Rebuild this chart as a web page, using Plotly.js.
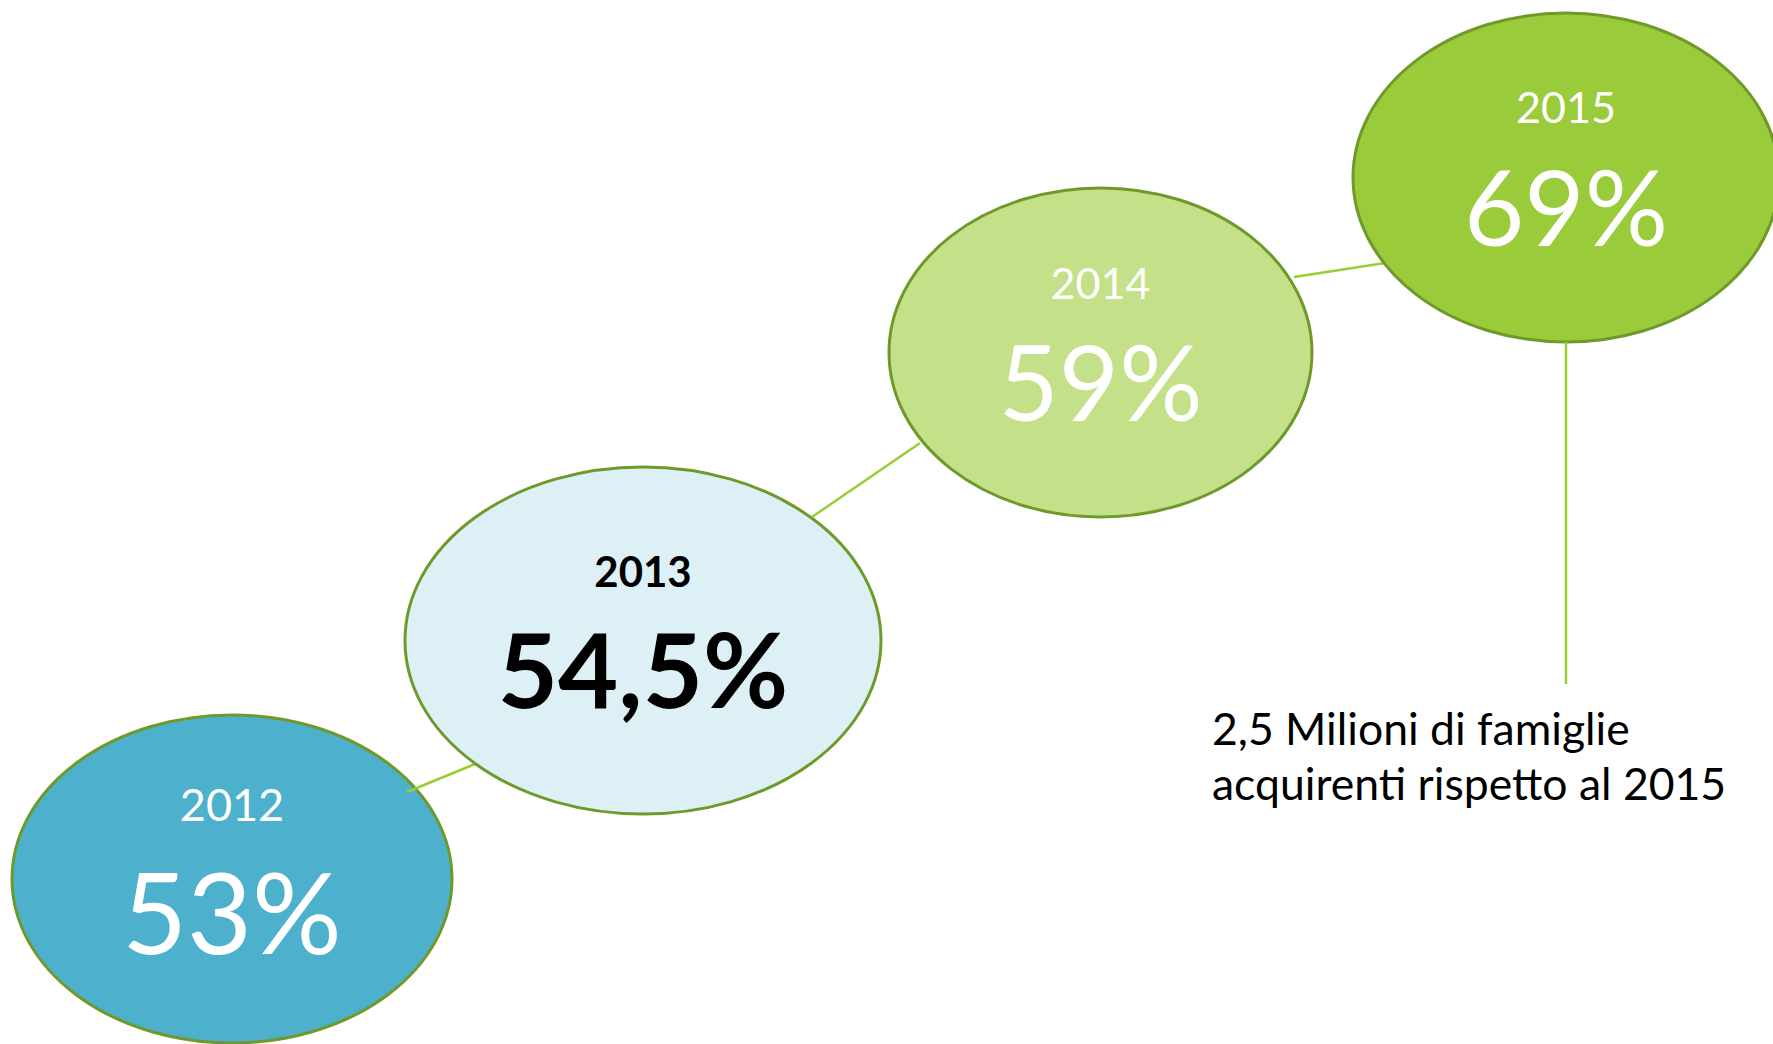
<!DOCTYPE html>
<html>
<head>
<meta charset="utf-8">
<script src="https://cdn.plot.ly/plotly-3.0.1.min.js"></script>
<style>html,body{margin:0;padding:0;background:#fff;overflow:hidden}#chart{width:1773px;height:1044px}</style>
</head>
<body>
<div id="chart"></div>
<script>
// ---- data ----
const years = ["2012", "2013", "2014", "2015"];
const shares = [53, 54.5, 59, 69];           // % of families buying
const shareLabels = ["53%", "54,5%", "59%", "69%"];
const noteLines = ["2,5 Milioni di famiglie", "acquirenti rispetto al 2015"];

// ---- layout (pixel positions, sizes, styles) ----
const bubbles = [
  {x0: 12,   x1: 452,  y0: 715, y1: 1043, yearY: 810, valY: 926, fill: "#4DB1CD", txt: "#ffffff", ys: 45, vs: 112, bold: false},
  {x0: 405,  x1: 881,  y0: 467, y1: 814,  yearY: 576, valY: 682, fill: "#DDF0F5", txt: "#000000", ys: 42, vs: 104, bold: true},
  {x0: 889,  x1: 1312, y0: 188, y1: 517,  yearY: 288, valY: 395, fill: "#C4E18A", txt: "#ffffff", ys: 43, vs: 104, bold: false},
  {x0: 1353, x1: 1779, y0: 13,  y1: 342,  yearY: 112, valY: 220, fill: "#9ACB3A", txt: "#ffffff", ys: 43, vs: 104, bold: false}
];
const connectors = [
  [407, 792, 475, 764],
  [812, 517, 920, 443],
  [1294, 277, 1385, 263],
  [1566, 342, 1566, 684]
];
const notePos = {x: 1210, y: [727, 782], size: 44.5};
const border = "#6F9A2B";
const connColor = "#9ACD32";
const FONT = "Lato, 'Open Sans', sans-serif";

const shapes = [];
bubbles.forEach((b, i) => {
  shapes.push({type: "circle", xref: "x", yref: "y", x0: b.x0, x1: b.x1, y0: b.y0, y1: b.y1,
    fillcolor: b.fill, line: {color: border, width: 3}, layer: "below"});
  if (i < connectors.length - 1) {
    const c = connectors[i];
    shapes.push({type: "line", xref: "x", yref: "y", x0: c[0], y0: c[1], x1: c[2], y1: c[3],
      line: {color: connColor, width: 2.5}, layer: "below"});
  }
});
const v = connectors[connectors.length - 1];
shapes.push({type: "line", xref: "x", yref: "y", x0: v[0], y0: v[1], x1: v[2], y1: v[3],
  line: {color: connColor, width: 2.5}, layer: "below"});

const cx = bubbles.map((b, i) => i === 3 ? 1566 : (b.x0 + b.x1) / 2);
const wrap = (s, b) => b.bold ? "<b>" + s + "</b>" : s;

const yearTrace = {
  type: "scatter", mode: "text",
  x: cx,
  y: bubbles.map(b => b.yearY),
  text: years.map((y, i) => wrap(y, bubbles[i])),
  textposition: "middle center",
  textfont: {family: FONT, size: bubbles.map(b => b.ys), color: bubbles.map(b => b.txt)},
  hoverinfo: "skip", cliponaxis: false, showlegend: false
};
const valTrace = {
  type: "scatter", mode: "text",
  x: cx,
  y: bubbles.map(b => b.valY),
  text: shareLabels.map((s, i) => wrap(s, bubbles[i])),
  customdata: shares,
  textposition: "middle center",
  textfont: {family: FONT, size: bubbles.map(b => b.vs), color: bubbles.map(b => b.txt)},
  hoverinfo: "skip", cliponaxis: false, showlegend: false
};

const annotations = noteLines.map((t, i) => ({
  xref: "x", yref: "y", x: notePos.x, y: notePos.y[i], text: t, showarrow: false,
  xanchor: "left", yanchor: "middle", align: "left",
  font: {family: FONT, size: notePos.size, color: "#000000"}
}));

const layout = {
  width: 1773, height: 1044,
  margin: {l: 0, r: 0, t: 0, b: 0, pad: 0},
  paper_bgcolor: "#ffffff", plot_bgcolor: "#ffffff",
  xaxis: {range: [0, 1773], visible: false, fixedrange: true},
  yaxis: {range: [1044, 0], visible: false, fixedrange: true},
  shapes: shapes,
  annotations: annotations,
  showlegend: false
};

Plotly.newPlot("chart", [yearTrace, valTrace], layout, {displayModeBar: false, staticPlot: true});
</script>
</body>
</html>
